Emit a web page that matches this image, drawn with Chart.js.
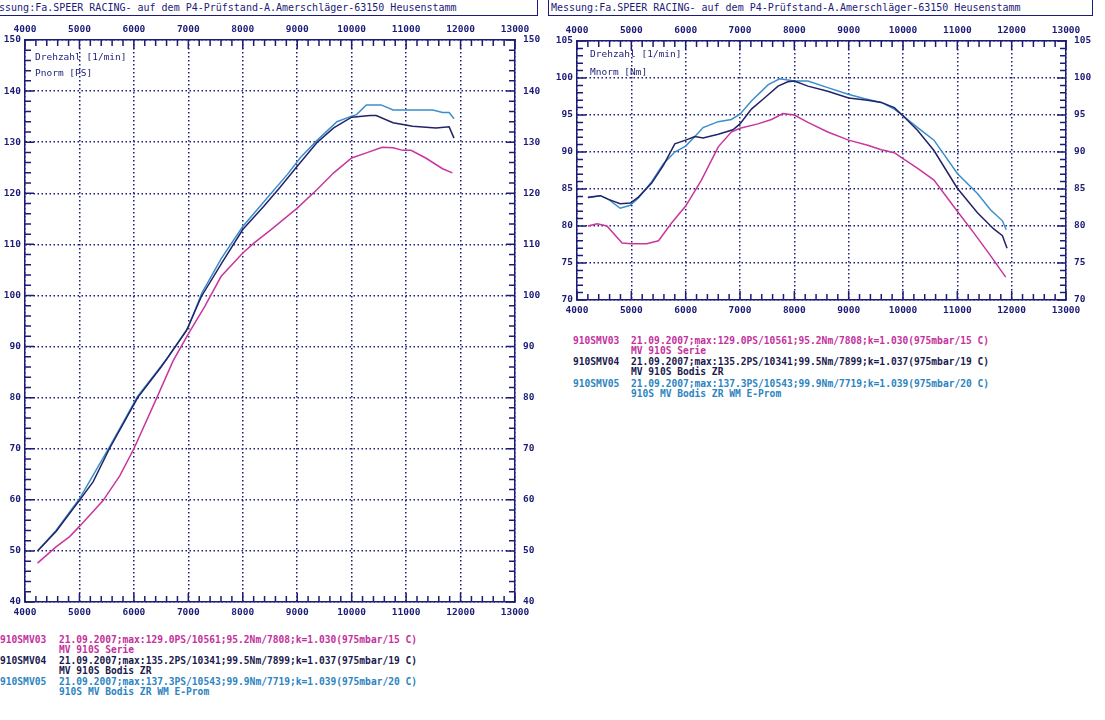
<!DOCTYPE html>
<html>
<head>
<meta charset="utf-8">
<script src="https://cdn.jsdelivr.net/npm/chart.js@4.4.0/dist/chart.umd.min.js"></script>
<style>
  html, body { margin: 0; padding: 0; background: #ffffff; }
  body { width: 1105px; height: 720px; position: relative; overflow: hidden;
         font-family: "DejaVu Sans Mono", "Liberation Mono", monospace; color: #1c1c78; }
  .head { position: absolute; top: 0; height: 15px; border: 1.5px solid #1c1c78; border-top: none;
          background: #fff; overflow: hidden; white-space: pre; font-size: 10px; line-height: 15px; }
  .head span { position: absolute; top: 0; }
  .cv { position: absolute; }
  .lbl { position: absolute; font-size: 9.5px; white-space: pre; color: #1c1c78; }
  .foot { position: absolute; font-size: 9.6px; font-weight: bold; white-space: pre; line-height: 10.4px; }
  .c3 { color: #c4309c; }
  .c4 { color: #1a1a4e; }
  .c5 { color: #2c84c0; }
</style>
</head>
<body>

<div class="head" style="left:-2px; width:538px;"><span style="left:-12px;">Messung:Fa.SPEER RACING- auf dem P4-Prüfstand-A.Amerschläger-63150 Heusenstamm</span></div>
<div class="head" style="left:548px; width:543px;"><span style="left:2px;">Messung:Fa.SPEER RACING- auf dem P4-Prüfstand-A.Amerschläger-63150 Heusenstamm</span></div>

<canvas id="powerChart" class="cv" style="left:0px; top:18px;"></canvas>
<canvas id="torqueChart" class="cv" style="left:548px; top:18px;"></canvas>

<div class="lbl" style="left:35px; top:51px;">Drehzahl [1/min]</div>
<div class="lbl" style="left:35px; top:67px;">Pnorm [PS]</div>
<div class="lbl" style="left:590px; top:48px;">Drehzahl [1/min]</div>
<div class="lbl" style="left:590px; top:66px;">Mnorm [Nm]</div>

<div class="foot c3" style="left:0px; top:635px;">910SMV03</div>
<div class="foot c3" style="left:59px; top:635px;">21.09.2007;max:129.0PS/10561;95.2Nm/7808;k=1.030(975mbar/15 C)<br>MV 910S Serie</div>
<div class="foot c4" style="left:0px; top:656px;">910SMV04</div>
<div class="foot c4" style="left:59px; top:656px;">21.09.2007;max:135.2PS/10341;99.5Nm/7899;k=1.037(975mbar/19 C)<br>MV 910S Bodis ZR</div>
<div class="foot c5" style="left:0px; top:677px;">910SMV05</div>
<div class="foot c5" style="left:59px; top:677px;">21.09.2007;max:137.3PS/10543;99.9Nm/7719;k=1.039(975mbar/20 C)<br>910S MV Bodis ZR WM E-Prom</div>

<div class="foot c3" style="left:573px; top:336px;">910SMV03</div>
<div class="foot c3" style="left:631px; top:336px;">21.09.2007;max:129.0PS/10561;95.2Nm/7808;k=1.030(975mbar/15 C)<br>MV 910S Serie</div>
<div class="foot c4" style="left:573px; top:357px;">910SMV04</div>
<div class="foot c4" style="left:631px; top:357px;">21.09.2007;max:135.2PS/10341;99.5Nm/7899;k=1.037(975mbar/19 C)<br>MV 910S Bodis ZR</div>
<div class="foot c5" style="left:573px; top:379px;">910SMV05</div>
<div class="foot c5" style="left:631px; top:379px;">21.09.2007;max:137.3PS/10543;99.9Nm/7719;k=1.039(975mbar/20 C)<br>910S MV Bodis ZR WM E-Prom</div>

<script>
var NAVY = '#1c1c78';
var MAGENTA = '#c8369e';
var DARK = '#22226a';
var BLUE = '#3a8fca';

// ---- power (PS) over rpm ----
var rpmSerie  = [4230, 4570, 4820, 5000, 5430, 5740, 6000, 6410, 6720, 7000, 7300, 7600, 8000, 8210, 8520, 9000, 9360, 9670, 10000, 10270, 10560, 10760, 10940, 11090, 11360, 11670, 11850];
var psSerie   = [47.6, 50.8, 52.8, 54.8, 59.8, 64.7, 70.0, 79.7, 87.2, 92.5, 97.8, 103.7, 108.3, 110.3, 112.9, 117.1, 120.7, 124.0, 126.9, 127.9, 129.0, 128.9, 128.4, 128.4, 126.9, 124.8, 124.0];

var rpmBodis  = [4230, 4570, 5000, 5250, 5550, 6070, 6500, 6960, 7240, 7610, 8000, 8390, 8670, 9000, 9360, 9670, 10000, 10340, 10450, 10760, 11120, 11550, 11790, 11880];
var psBodis   = [50.0, 53.8, 59.9, 63.5, 70.0, 80.0, 86.0, 93.0, 99.8, 106.3, 112.9, 117.5, 121.0, 125.3, 129.9, 132.8, 134.9, 135.2, 135.2, 133.8, 133.1, 132.8, 133.0, 130.8];

var rpmEprom  = [4230, 4570, 5000, 5550, 6070, 6600, 7000, 7250, 7610, 8000, 8400, 8820, 9060, 9360, 9730, 10000, 10090, 10270, 10540, 10760, 11120, 11490, 11670, 11790, 11880];
var psEprom   = [50.0, 54.0, 60.2, 70.3, 80.3, 87.5, 93.8, 100.5, 107.3, 113.5, 118.5, 123.7, 127.0, 130.3, 134.0, 135.1, 135.4, 137.3, 137.3, 136.3, 136.3, 136.3, 135.8, 135.8, 134.6];

// ---- torque (Nm) over rpm ----
var rpmSerieM = [4200, 4370, 4550, 4830, 5010, 5280, 5500, 5740, 6000, 6290, 6600, 6840, 7000, 7330, 7580, 7790, 8000, 8250, 8615, 9000, 9350, 9600, 9840, 10000, 10270, 10570, 11000, 11300, 11610, 11890];
var nmSerie   = [80.0, 80.3, 80.0, 77.7, 77.6, 77.6, 78.0, 80.4, 82.7, 86.2, 90.7, 92.7, 93.2, 93.8, 94.4, 95.2, 95.0, 94.0, 92.7, 91.6, 90.9, 90.3, 89.9, 89.1, 87.8, 86.2, 82.0, 79.1, 76.0, 73.1];

var rpmBodisM = [4200, 4430, 4580, 4795, 4980, 5130, 5375, 5590, 5800, 6000, 6170, 6320, 6600, 6870, 7000, 7210, 7450, 7700, 7880, 8000, 8250, 8615, 9000, 9350, 9600, 9840, 10000, 10270, 10570, 11000, 11370, 11670, 11830, 11915];
var nmBodis   = [83.9, 84.1, 83.6, 83.0, 83.1, 83.9, 85.8, 88.2, 91.1, 91.6, 92.1, 91.9, 92.4, 93.0, 93.8, 95.8, 97.3, 98.9, 99.5, 99.6, 98.9, 98.2, 97.3, 97.0, 96.7, 96.0, 94.9, 92.9, 90.2, 85.1, 81.8, 79.6, 78.7, 77.0];

var rpmEpromM = [4200, 4430, 4580, 4795, 4980, 5130, 5375, 5590, 5800, 6000, 6170, 6320, 6600, 6840, 7000, 7210, 7520, 7730, 8000, 8250, 8615, 8990, 9300, 9600, 9840, 10000, 10270, 10570, 11000, 11370, 11610, 11830, 11900];
var nmEprom   = [83.8, 84.1, 83.6, 82.4, 82.8, 83.8, 86.0, 88.4, 90.0, 90.8, 92.1, 93.3, 94.1, 94.4, 95.1, 96.9, 99.1, 99.9, 99.6, 99.6, 98.7, 97.8, 97.2, 96.7, 95.8, 94.9, 93.3, 91.6, 87.1, 84.4, 82.2, 80.7, 79.5];

function pts(xs, ys){
    var out = [];
    for(var i = 0; i < xs.length; i++){ out.push({x: xs[i], y: ys[i]}); }
    return out;
}

function line(label, xs, ys, color){
    return { label: label, data: pts(xs, ys), borderColor: color, borderWidth: 1.5,
             pointRadius: 0, tension: 0, fill: false };
}

// short inward ticks along all four sides of the plot frame
var frameTicks = {
    id: 'frameTicks',
    afterDraw: function(chart, args, opts){
        var ctx = chart.ctx, a = chart.chartArea;
        var sx = chart.scales.x, sy = chart.scales.y;
        var v, p, len;
        ctx.save();
        ctx.strokeStyle = NAVY;
        ctx.lineWidth = 1.5;
        ctx.beginPath();
        for(v = sx.min; v <= sx.max + 0.001; v += opts.xMinor){
            p = sx.getPixelForValue(v);
            len = (Math.abs(v % opts.xMajor) < 0.001) ? 9 : 6;
            ctx.moveTo(p, a.bottom); ctx.lineTo(p, a.bottom - len);
            ctx.moveTo(p, a.top);    ctx.lineTo(p, a.top + len);
        }
        for(v = sy.min; v <= sy.max + 0.001; v += opts.yMinor){
            p = sy.getPixelForValue(v);
            len = (Math.abs(v % opts.yMajor) < 0.001) ? 9 : 6;
            ctx.moveTo(a.left, p);  ctx.lineTo(a.left + len, p);
            ctx.moveTo(a.right, p); ctx.lineTo(a.right - len, p);
        }
        ctx.stroke();
        ctx.restore();
    }
};

var tickFont = { family: '"DejaVu Sans Mono", monospace', size: 9.5, weight: 'bold' };
function plain(v){ return String(v); }

function makeChart(id, w, h, datasets, ymin, ymax, ystep, yminor, sizes){
    var canvas = document.getElementById(id);
    canvas.style.width = w + 'px';
    canvas.style.height = h + 'px';
    canvas.width = w; canvas.height = h;

    var grid = { display: true, drawOnChartArea: true, drawTicks: false, color: NAVY, lineWidth: 1.5 };
    var noGrid = { display: true, drawOnChartArea: false, drawTicks: false };
    var border = { display: true, color: NAVY, width: 1.5, dash: [1.5, 2.5] };

    return new Chart(canvas.getContext('2d'), {
        type: 'line',
        data: { datasets: datasets },
        plugins: [frameTicks],
        options: {
            responsive: false,
            animation: false,
            devicePixelRatio: 1,
            layout: { padding: 0 },
            plugins: {
                legend: { display: false },
                tooltip: { enabled: false },
                frameTicks: { xMinor: 200, xMajor: 1000, yMinor: yminor, yMajor: ystep }
            },
            scales: {
                x: { type: 'linear', position: 'bottom', min: 4000, max: 13000,
                     ticks: { stepSize: 1000, color: NAVY, font: tickFont, padding: 5, maxRotation: 0, callback: plain },
                     grid: grid, border: border,
                     afterFit: function(s){ s.height = sizes.bottom; } },
                xTop: { type: 'linear', position: 'top', min: 4000, max: 13000,
                     ticks: { stepSize: 1000, color: NAVY, font: tickFont, padding: 5, maxRotation: 0, callback: plain },
                     grid: noGrid, border: { display: true, color: NAVY, width: 1.5 },
                     afterFit: function(s){ s.height = sizes.top; } },
                y: { type: 'linear', position: 'left', min: ymin, max: ymax,
                     ticks: { stepSize: ystep, color: NAVY, font: tickFont, padding: 4, callback: plain },
                     grid: grid, border: border,
                     afterFit: function(s){ s.width = sizes.left; } },
                yRight: { type: 'linear', position: 'right', min: ymin, max: ymax,
                     ticks: { stepSize: ystep, color: NAVY, font: tickFont, padding: 8, callback: plain },
                     grid: noGrid, border: { display: true, color: NAVY, width: 1.5 },
                     afterFit: function(s){ s.width = sizes.right; } }
            }
        }
    });
}

// left chart: plot area x 25..515, y 40..601 on the page (canvas at 0,18)
var powerChart = makeChart('powerChart', 546, 608, [
    line('910SMV03', rpmSerie, psSerie, MAGENTA),
    line('910SMV04', rpmBodis, psBodis, DARK),
    line('910SMV05', rpmEprom, psEprom, BLUE)
], 40, 150, 10, 2, { left: 25, right: 31, top: 22, bottom: 24 });

// right chart: plot area x 577..1066, y 41..300 on the page (canvas at 548,18)
var torqueChart = makeChart('torqueChart', 557, 307, [
    line('910SMV03', rpmSerieM, nmSerie, MAGENTA),
    line('910SMV04', rpmBodisM, nmBodis, DARK),
    line('910SMV05', rpmEpromM, nmEprom, BLUE)
], 70, 105, 5, 1, { left: 29, right: 39, top: 23, bottom: 25 });
</script>
</body>
</html>
